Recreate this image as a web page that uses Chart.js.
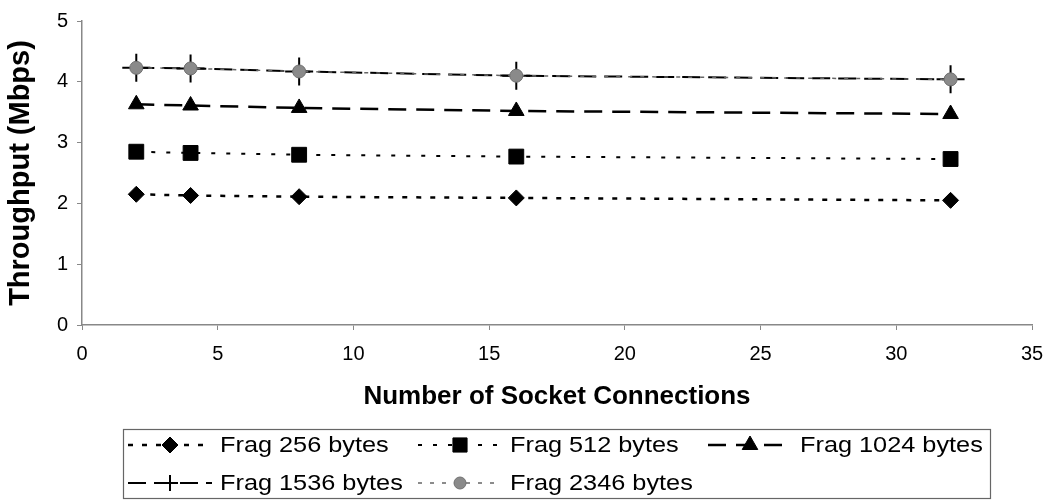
<!DOCTYPE html>
<html>
<head>
<meta charset="utf-8">
<script src="https://cdn.jsdelivr.net/npm/chart.js@4.4.1/dist/chart.umd.min.js"></script>
<style>
  body { margin: 0; background: #fff; }
</style>
</head>
<body>
<canvas id="myChart" width="1057" height="501"></canvas>
<script>
// Socket connections on the x axis, throughput (Mbps) per fragment size
var connections = [2, 4, 8, 16, 32];
var frag256 = [2.15, 2.13, 2.11, 2.09, 2.05];
var frag512 = [2.85, 2.83, 2.80, 2.77, 2.73];
var frag1024 = [3.63, 3.61, 3.57, 3.52, 3.47];
var frag1536 = [4.23, 4.22, 4.17, 4.10, 4.04];
var frag2346 = [4.23, 4.22, 4.17, 4.10, 4.04];
var seriesNames = ["Frag 256 bytes", "Frag 512 bytes", "Frag 1024 bytes", "Frag 1536 bytes", "Frag 2346 bytes"];

var FONT = "'Liberation Sans', Arial, sans-serif";

function pts(values) {
  return values.map(function (v, i) {
    return { x: connections[i], y: v };
  });
}

// legend marker sizes (smaller cross than on the plot)
var legendRadius = [8, 10, 9, 8, 6];

// draws the boxed legend under the x axis title
var boxLegend = {
  id: "boxLegend",
  afterDraw: function (chart) {
    var ctx = chart.ctx;
    ctx.save();
    ctx.strokeStyle = "#666";
    ctx.lineWidth = 1.2;
    ctx.strokeRect(123.5, 429.5, 867, 69);
    chart.data.datasets.forEach(function (ds, i) {
      var col = i % 3, row = Math.floor(i / 3);
      var x0 = 128 + col * 290, y = 445 + row * 38;
      ctx.strokeStyle = ds.borderColor;
      ctx.lineWidth = ds.borderWidth;
      ctx.setLineDash(ds.borderDash);
      ctx.beginPath();
      ctx.moveTo(x0, y);
      ctx.lineTo(x0 + 84, y);
      ctx.stroke();
      ctx.setLineDash([]);
      ctx.fillStyle = ds.pointBackgroundColor;
      ctx.strokeStyle = ds.pointBorderColor;
      ctx.lineWidth = ds.pointBorderWidth;
      Chart.helpers.drawPoint(ctx, {
        pointStyle: ds.pointStyle,
        radius: legendRadius[i],
        borderWidth: ds.pointBorderWidth,
        rotation: 0
      }, x0 + 42, y);
      ctx.fillStyle = "#000";
      ctx.font = "22px " + FONT;
      ctx.textBaseline = "middle";
      ctx.textAlign = "left";
      ctx.translate(x0 + 92, y);
      ctx.scale(1.15, 1);
      ctx.fillText(ds.label, 0, 1);
      ctx.setTransform(1, 0, 0, 1, 0, 0);
    });
    ctx.restore();
  }
};

var ctx = document.getElementById("myChart");
window.chart = new Chart(ctx, {
  type: "line",
  data: {
    datasets: [
      {
        label: seriesNames[0],
        data: pts(frag256),
        borderColor: "#000",
        borderWidth: 2.5,
        borderDash: [5, 9],
        pointStyle: "rectRot",
        pointRadius: 8,
        pointBackgroundColor: "#000",
        pointBorderColor: "#000",
        pointBorderWidth: 1,
        order: 1
      },
      {
        label: seriesNames[1],
        data: pts(frag512),
        borderColor: "#000",
        borderWidth: 2,
        borderDash: [4, 11],
        pointStyle: "rect",
        pointRadius: 10.5,
        pointBackgroundColor: "#000",
        pointBorderColor: "#000",
        pointBorderWidth: 1,
        order: 1
      },
      {
        label: seriesNames[2],
        data: pts(frag1024),
        borderColor: "#000",
        borderWidth: 2.5,
        borderDash: [18, 10],
        pointStyle: "triangle",
        pointRadius: 9,
        pointBackgroundColor: "#000",
        pointBorderColor: "#000",
        pointBorderWidth: 1,
        order: 1
      },
      {
        label: seriesNames[3],
        data: pts(frag1536),
        borderColor: "#000",
        borderWidth: 2,
        borderDash: [18, 8],
        pointStyle: "cross",
        pointRadius: 14,
        pointBackgroundColor: "#000",
        pointBorderColor: "#000",
        pointBorderWidth: 2,
        order: 1
      },
      {
        label: seriesNames[4],
        data: pts(frag2346),
        borderColor: "#666",
        borderWidth: 1.5,
        borderDash: [4, 8],
        pointStyle: "circle",
        pointRadius: 6.5,
        pointBackgroundColor: "#8a8a8a",
        pointBorderColor: "#707070",
        pointBorderWidth: 1,
        order: 0
      }
    ]
  },
  options: {
    responsive: false,
    animation: false,
    layout: { padding: { left: 0, right: 25, top: 18, bottom: 86 } },
    plugins: {
      legend: { display: false },
      tooltip: { enabled: false }
    },
    scales: {
      x: {
        type: "linear",
        position: "bottom",
        min: 0,
        max: 35,
        ticks: { stepSize: 5, color: "#000", padding: 12, font: { family: FONT, size: 20 } },
        grid: { drawOnChartArea: false, tickLength: 5, color: "#888" },
        border: { color: "#888", width: 1.5 },
        title: {
          display: true,
          text: "Number of Socket Connections",
          color: "#000",
          font: { family: FONT, size: 26, weight: "bold" },
          padding: { top: 4, bottom: 3 }
        },
        afterFit: function (scale) { scale.height = 90; }
      },
      y: {
        min: 0,
        max: 5,
        ticks: { stepSize: 1, color: "#000", padding: 9, font: { family: FONT, size: 20 } },
        grid: { drawOnChartArea: false, tickLength: 5, color: "#888" },
        border: { color: "#888", width: 1.5 },
        title: {
          display: true,
          text: "Throughput (Mbps)",
          color: "#000",
          font: { family: FONT, size: 29, weight: "bold" },
          padding: { top: 4, bottom: 4 }
        },
        afterFit: function (scale) { scale.width = 82; }
      }
    }
  },
  plugins: [boxLegend]
});
</script>
</body>
</html>
